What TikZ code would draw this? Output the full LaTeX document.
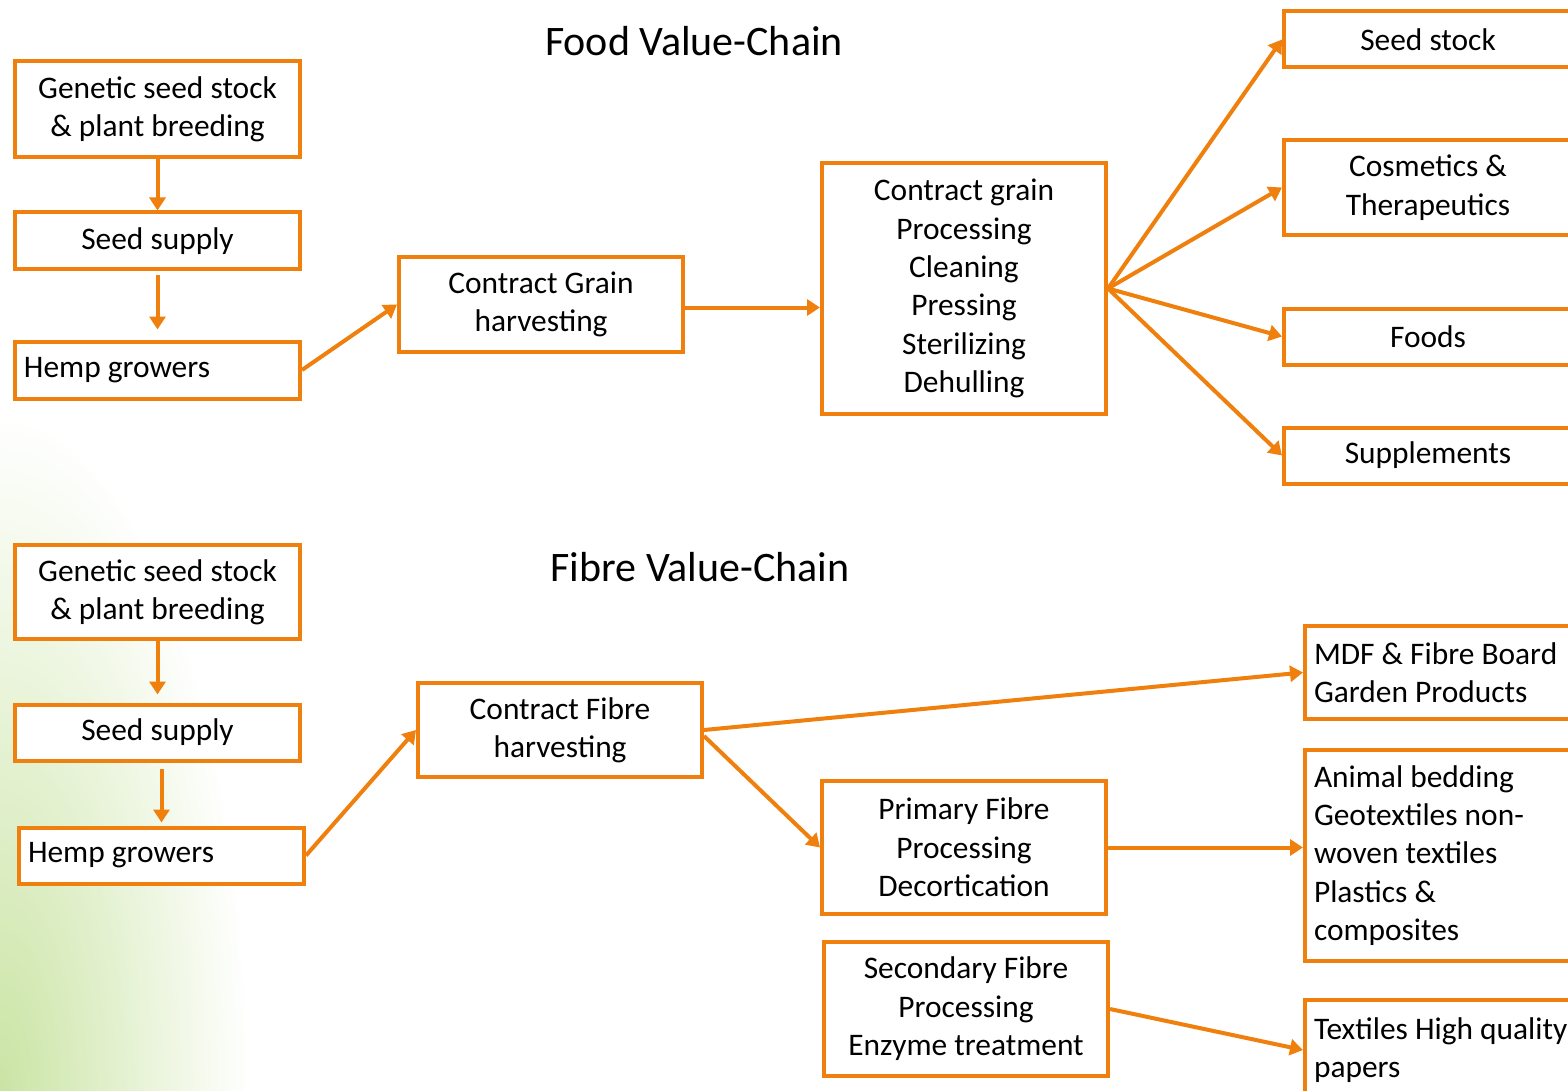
\documentclass[tikz,border=0pt]{standalone}
\usepackage{fontspec}
\setmainfont{Carlito}
\usetikzlibrary{arrows.meta,calc}
\definecolor{orng}{RGB}{239,128,14}
\definecolor{bgg}{RGB}{202,228,164}
\def\pxl{0.5pt}
\tikzset{
  box/.style={draw=orng, line width=2pt, fill=white, inner sep=0pt, align=center,
    font=\fontsize{15.7}{19.2}\selectfont},
  lbox/.style={box, align=left, text width=#1, inner xsep=9*\pxl,
    execute at begin node={\spaceskip=0pt\xspaceskip=0pt}},
  arr/.style={draw=orng, line width=2pt, -{Triangle[length=6.5pt,width=8pt]}},
  ttl/.style={font=\fontsize{21}{25}\selectfont, inner sep=0pt}
}
\begin{document}
\begin{tikzpicture}[x=0.5pt,y=-0.5pt]
\useasboundingbox (0,0) rectangle (1568,1091);
\clip (0,0) rectangle (1568,1091);
\shade[inner color=bgg, outer color=white] (0,1091) ellipse [x radius=250, y radius=680];

% ---------- Food value chain ----------
\node[ttl] (t1) at (694,41) {Food Value-Chain};
\node[box, minimum width=285*\pxl, minimum height=96*\pxl] (G1) at (157.5,109.5) {Genetic seed stock\\\& plant breeding};
\node[box, minimum width=285*\pxl, minimum height=57*\pxl] (S1) at (157.5,241) {Seed supply};
\node[lbox=267*\pxl, minimum height=57*\pxl] (H1) at (157.5,370) {Hemp growers};
\node[box, minimum width=284*\pxl, minimum height=95*\pxl] (CG) at (541,304.5) {Contract Grain\\harvesting};
\node[box, minimum width=284*\pxl, minimum height=251*\pxl] (CP) at (964,288.5) {Contract grain\\Processing\\Cleaning\\Pressing\\Sterilizing\\Dehulling};
\node[box, minimum width=288*\pxl, minimum height=56*\pxl] (SS) at (1428,39.5) {Seed stock};
\node[box, minimum width=288*\pxl, minimum height=95*\pxl] (CT) at (1428,187.5) {Cosmetics \&\\Therapeutics};
\node[box, minimum width=288*\pxl, minimum height=56*\pxl] (F) at (1428,336.5) {Foods};
\node[box, minimum width=288*\pxl, minimum height=56*\pxl] (SU) at (1428,455.5) {Supplements};

\draw[arr] (G1.south) -- (S1.north);
\draw[arr, shorten <=2pt, shorten >=5pt] (S1.south) -- (H1.north);
\draw[arr] (H1.east) -- (CG.west);
\draw[arr] ([yshift=-1.5pt]CG.east) -- ([yshift=-1.5pt]CG.east -| CP.west);
\draw[arr] (CP.east) -- (SS.west);
\draw[arr] (CP.east) -- (CT.west);
\draw[arr] (CP.east) -- (F.west);
\draw[arr] (CP.east) -- (SU.west);

% ---------- Fibre value chain ----------
\node[ttl] (t2) at (700,567) {Fibre Value-Chain};
\node[box, minimum width=285*\pxl, minimum height=94*\pxl] (G2) at (157.5,592) {Genetic seed stock\\\& plant breeding};
\node[box, minimum width=285*\pxl, minimum height=56*\pxl] (S2) at (157.5,732.5) {Seed supply};
\node[lbox=267*\pxl, minimum height=56*\pxl] (H2) at (161.5,855.5) {Hemp growers};
\node[box, minimum width=284*\pxl, minimum height=94*\pxl] (CF) at (560,730) {Contract Fibre\\harvesting};
\node[box, minimum width=284*\pxl, minimum height=133*\pxl] (PF) at (964,847.5) {Primary Fibre\\Processing\\Decortication};
\node[box, minimum width=284*\pxl, minimum height=134*\pxl] (SF) at (966,1009) {Secondary Fibre\\Processing\\Enzyme treatment};
\node[lbox=317*\pxl, minimum height=93*\pxl] (MDF) at (1472.5,672.5) {MDF \& Fibre Board\\Garden Products};
\node[lbox=317*\pxl, minimum height=211*\pxl] (AB) at (1472.5,855.5) {Animal bedding\\Geotextiles non-\\woven textiles\\Plastics \&\\composites};
\node[lbox=317*\pxl, minimum height=101*\pxl] (TX) at (1472.5,1050) {Textiles High quality\\papers};

\draw[arr, shorten >=4pt] (G2.south) -- (S2.north);
\draw[arr, shorten <=3pt, shorten >=1.5pt] (H2.north |- S2.south) -- (H2.north);
\draw[arr] (H2.east) -- (CF.west);
\draw[arr] (CF.east) -- (MDF.west);
\draw[arr] ([yshift=-3pt]CF.east) -- (PF.west);
\draw[arr] (PF.east) -- (PF.east -| AB.west);
\draw[arr] (SF.east) -- (TX.west);
\end{tikzpicture}
\end{document}
